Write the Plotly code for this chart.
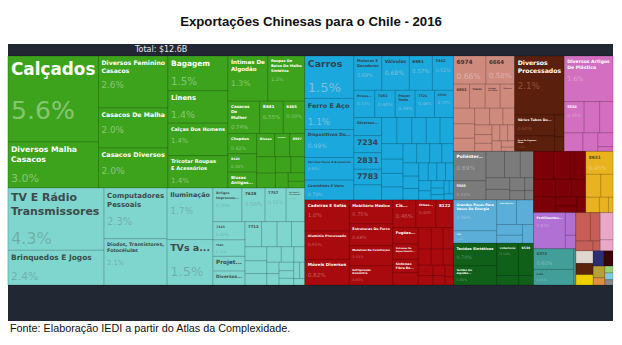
import math
import plotly.graph_objects as go

# ---- sectors (share of total exports, %) ----
setores = ["Têxteis", "Eletrônicos", "Máquinas", "Móveis e Metais", "Pedra e Vidro",
           "Metais Processados", "Plásticos", "Fibras", "Minerais", "Instrumentos",
           "Componentes", "Tecidos", "Químicos", "Alimentos", "Cerâmica", "Cosméticos"]
cores_setor = ["#3da31d", "#7fd6cf", "#1ba9dd", "#a90a0d", "#cf8a7e",
               "#5b1f0d", "#d36fc0", "#7b7b7b", "#7c0007", "#e9b320",
               "#5aaed8", "#10601a", "#b070d4", "#419e99", "#c45e56", "#e9a8c6"]
cor_nome = ["#ffffff", "#3d4b4a", "#34434d", "#ffffff", "#4a3030",
            "#ffffff", "#ffffff", "#ffffff", "#ffffff", "#5a4a20",
            "#ffffff", "#ffffff", "#ffffff", "#2f4f4d", "#ffffff", "#ffffff"]
cor_pct = ["rgba(255,255,255,0.40)", "rgba(80,100,100,0.35)", "rgba(210,210,220,0.55)",
           "rgba(255,255,255,0.35)", "rgba(255,255,255,0.35)", "rgba(255,180,150,0.35)",
           "rgba(255,255,255,0.35)", "rgba(255,255,255,0.35)", "rgba(255,255,255,0.35)",
           "rgba(255,255,255,0.35)", "rgba(255,255,255,0.35)", "rgba(255,255,255,0.35)",
           "rgba(255,255,255,0.35)", "rgba(255,255,255,0.35)", "rgba(255,255,255,0.35)",
           "rgba(255,255,255,0.35)"]

# ---- products per sector ----
texteis_rotulos = ["Calçados", "Diversos Malha\nCasacos", "Diversos Feminino\nCasacos",
                   "Casacos De Malha", "Casacos Diversos", "Bagagem", "Linens",
                   "Calças Dos Homens", "Tricotar Roupas\nE Acessórios", "Íntimas De\nAlgodão",
                   "Roupas De\nBaixo De Malha\nSintética", "Casacos\nDo\nMulher", "8441", "8465",
                   "Chapéus", "8424", "Blusas\nAntigas...", "Blusas", "Mulheres...", "8997",
                   "", "", "", "", "", "", ""]
texteis_valores = [5.6, 3.0, 2.6, 2.0, 2.0, 1.5, 1.4, 1.4, 1.4, 1.3, 1.2, 0.74, 0.55, 0.5,
                   0.42, 0.38, 0.33, 0.3, 0.25, 0.25, 0.22, 0.2, 0.18, 0.16, 0.14, 0.1, 0.08]

eletronicos_rotulos = ["TV E Rádio\nTransmissores", "Brinquedos E Jogos", "Computadores\nPessoais",
                       "Diodos, Transistores,\nFotocélulas", "Iluminação", "TVs a...",
                       "Artigos\nImpressos...", "7628", "7757", "De Vídeo E\nGravadores...", "7415",
                       "7641", "Projet...", "Diversos...", "7712", "", "", "", "", "", "", "", "",
                       "", "", "", "", "", "", "", "", ""]
eletronicos_valores = [4.3, 2.4, 2.3, 2.1, 1.7, 1.5, 0.70, 0.56, 0.51, 0.45, 0.42, 0.38, 0.34,
                       0.32, 0.3, 0.28, 0.26, 0.24, 0.22, 0.2, 0.18, 0.16, 0.14, 0.12, 0.1, 0.1,
                       0.09, 0.08, 0.07, 0.07, 0.06, 0.05]

maquinas_rotulos = ["Carros", "Ferro E Aço", "Dispositivos Do...", "Veículos Peças E Acessórios",
                    "Caminhões E Vans", "Motores E\nGeradores", "Válvulas", "6991", "7442",
                    "Pneus...", "7051", "Power\nTools", "7721", "4540", "Diversos...", "7234",
                    "2831", "7783"] + [""] * 29
maquinas_valores = [1.5, 1.1, 0.99, 0.8, 0.7, 0.69, 0.68, 0.57, 0.52, 0.41, 0.40, 0.39, 0.38,
                    0.37, 0.36, 0.34, 0.33, 0.31, 0.30, 0.29, 0.28, 0.27, 0.26, 0.25, 0.24, 0.22,
                    0.21, 0.2, 0.19, 0.18, 0.17, 0.16, 0.15, 0.14, 0.13, 0.12, 0.11, 0.11, 0.1,
                    0.09, 0.08, 0.07, 0.06, 0.05, 0.05, 0.04, 0.04]

moveis_rotulos = ["Cadeiras E Sofás", "Alumínio Processado", "Móveis Diversos",
                  "Mobiliário Médico", "Estruturas De Ferro", "Materiais De Construção",
                  "Refrigeração\nDoméstica", "Cis...", "Ornas...", "8122", "Fogões...",
                  "Sistemas De\nAquecimento...", "Sistemas\nFibra De..."] + [""] * 13
moveis_valores = [1.0, 0.91, 0.82, 0.75, 0.68, 0.63, 0.6, 0.46, 0.40, 0.35, 0.3, 0.28, 0.25,
                  0.22, 0.2, 0.18, 0.16, 0.15, 0.14, 0.12, 0.11, 0.1, 0.09, 0.08, 0.07, 0.05]

pedra_rotulos = ["6974", "6664", "6853", "Vasos", "Artigos\nDe Vidro", "Talheres"] + [""] * 15
pedra_valores = [0.66, 0.58, 0.28, 0.27, 0.26, 0.25, 0.24, 0.22, 0.2, 0.18, 0.16, 0.14, 0.12,
                 0.11, 0.1, 0.09, 0.09, 0.08, 0.07, 0.06, 0.04]

processados_rotulos = ["Diversos\nProcessados", "Vários Tubos De...", "Ferro De Engomar\nPinos", "", ""]
processados_valores = [2.1, 0.6, 0.45, 0.15, 0.1]

plasticos_rotulos = ["Diversos Artigos\nDe Plástico", "5530", "", "", "", "", "", ""]
plasticos_valores = [1.6, 0.45, 0.35, 0.3, 0.25, 0.2, 0.15, 0.05]

fibras_rotulos = ["Poliéster...", "5503"] + [""] * 9
fibras_valores = [0.69, 0.45, 0.35, 0.3, 0.25, 0.2, 0.18, 0.14, 0.1, 0.08, 0.06]

minerais_rotulos = [""] * 10
minerais_valores = [0.4, 0.35, 0.3, 0.28, 0.25, 0.2, 0.18, 0.14, 0.1, 0.1]

instrumentos_rotulos = ["8931", "", "", "", "", ""]
instrumentos_valores = [0.45, 0.25, 0.2, 0.15, 0.1, 0.05]

componentes_rotulos = ["Grandes Peças Para\nVasos De Energia", "7782", "Cabos Elétricos", "", "", "", ""]
componentes_valores = [0.96, 0.39, 0.35, 0.3, 0.2, 0.15, 0.15]

tecidos_rotulos = ["Tecidos Sintéticos", "Tecidos De\nAlgodão...", "Cobertores", "6534", "", ""]
tecidos_valores = [0.70, 0.6, 0.5, 0.35, 0.15, 0.1]

quimicos_rotulos = ["Fertilizantes...", "", ""]
quimicos_valores = [0.83, 0.17, 0.1]

alimentos_rotulos = ["0372", "0360", ""]
alimentos_valores = [0.6, 0.45, 0.05]

ceramica_rotulos = ["", "", "", ""]
ceramica_valores = [0.3, 0.2, 0.12, 0.05]

cosmeticos_rotulos = ["", ""]
cosmeticos_valores = [0.25, 0.1]

# small sectors drawn as single tiles
outros_setores = ["Papel", "Couro", "Pedras Preciosas", "Navios", "Bebidas", "Madeira",
                  "Frutas", "Vegetais", "Peixes", "Armas"]
outros_valores = [0.16, 0.14, 0.13, 0.12, 0.1, 0.1, 0.06, 0.04, 0.04, 0.03]
outros_cores = ["#ddd7cd", "#5a240c", "#ecd000", "#2d2d72", "#3a0508", "#b9a035",
                "#e0903a", "#9ad27a", "#7ccbe0", "#8a8a8a"]

produtos = [
    (texteis_rotulos, texteis_valores), (eletronicos_rotulos, eletronicos_valores),
    (maquinas_rotulos, maquinas_valores), (moveis_rotulos, moveis_valores),
    (pedra_rotulos, pedra_valores), (processados_rotulos, processados_valores),
    (plasticos_rotulos, plasticos_valores), (fibras_rotulos, fibras_valores),
    (minerais_rotulos, minerais_valores), (instrumentos_rotulos, instrumentos_valores),
    (componentes_rotulos, componentes_valores), (tecidos_rotulos, tecidos_valores),
    (quimicos_rotulos, quimicos_valores), (alimentos_rotulos, alimentos_valores),
    (ceramica_rotulos, ceramica_valores), (cosmeticos_rotulos, cosmeticos_valores),
]


def fmt_pct(v):
    return f"{v:.1f}%" if v >= 1 else f"{v:.2f}%"


def rotulo_html(nome, v, pcor):
    if not nome:
        return ""
    txt = "<b>" + nome.replace("\n", "<br>") + "</b>"
    if v >= 0.37:
        ps = min(26, 5 + 8.5 * math.sqrt(v))
        txt += f"<br><br><span style='font-size:{ps:.1f}px;color:{pcor}'>{fmt_pct(v)}</span>"
    return txt


ids, labels, parents, values = [], [], [], []
colors, texts, sizes, fcolors = [], [], [], []

for s, cor, cn, cp, (rot, val) in zip(setores, cores_setor, cor_nome, cor_pct, produtos):
    ids.append(s); labels.append(s); parents.append(""); values.append(0)
    colors.append(cor); texts.append(""); sizes.append(8); fcolors.append(cn)
    for i, (r, v) in enumerate(zip(rot, val)):
        ids.append(f"{s}/{i}"); labels.append(r.replace("\n", " ") or f"{s} {i}")
        parents.append(s); values.append(v); colors.append(cor)
        texts.append(rotulo_html(r, v, cp))
        sizes.append(min(17, 5 + 5 * math.sqrt(v))); fcolors.append(cn)

for s, v, cor in zip(outros_setores, outros_valores, outros_cores):
    ids.append(s); labels.append(s); parents.append(""); values.append(v)
    colors.append(cor); texts.append(""); sizes.append(6); fcolors.append("#ffffff")

PAINEL = "#222833"

fig = go.Figure(go.Treemap(
    ids=ids, labels=labels, parents=parents, values=values,
    branchvalues="remainder", sort=True,
    text=texts, textinfo="text", textposition="top left",
    textfont=dict(family="DejaVu Sans", size=sizes, color=fcolors),
    marker=dict(colors=colors, line=dict(width=0.8, color="rgba(0,0,0,0.2)"),
                pad=dict(t=0, l=0, r=0, b=0)),
    tiling=dict(packing="squarify", squarifyratio=1.618034, pad=0),
    pathbar=dict(visible=False),
    hoverinfo="skip",
    domain=dict(x=[0, 1], y=[36 / 277, 265 / 277]),
))

fig.update_layout(
    width=622, height=345,
    margin=dict(l=8, r=9, t=44, b=24),
    paper_bgcolor="white",
    title=dict(text="<b>Exportações Chinesas para o Chile - 2016</b>",
               x=0.5, xref="container", xanchor="center",
               y=1 - 21 / 345, yref="container", yanchor="middle",
               font=dict(family="Liberation Sans, Arial", size=13.2, color="#111")),
    shapes=[dict(type="rect", xref="paper", yref="paper", x0=0, x1=1, y0=0, y1=1,
                 fillcolor=PAINEL, line=dict(width=0), layer="below")],
    annotations=[
        dict(text="Total: $12.6B", xref="paper", yref="paper", x=152 / 605, y=(277 - 5) / 277,
             xanchor="center", yanchor="middle", showarrow=False,
             font=dict(family="DejaVu Sans", size=8, color="#e8e8e8")),
        dict(text="Fonte: Elaboração IEDI a partir do Atlas da Complexidade.",
             xref="paper", yref="paper", x=0, y=-7 / 277, xanchor="left", yanchor="middle",
             showarrow=False,
             font=dict(family="Liberation Sans, Arial", size=10.8, color="#111")),
    ],
)

fig.write_html("out.html")
